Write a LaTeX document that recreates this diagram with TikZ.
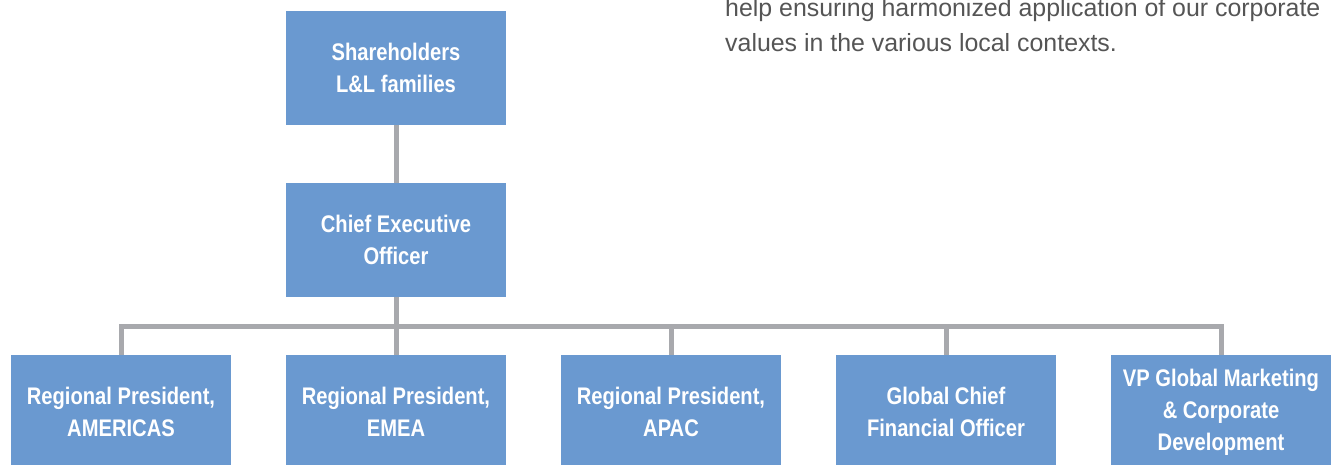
\documentclass[tikz,border=0pt]{standalone}
\usepackage{fontspec}
\setmainfont{Liberation Sans}
\newfontfamily\boxfont[FakeStretch=0.84]{Liberation Sans}
\definecolor{boxblue}{HTML}{6A99D0}
\definecolor{linegray}{HTML}{A8A9AD}
\definecolor{txtgray}{HTML}{555555}
\begin{document}
\begin{tikzpicture}[x=1pt,y=1pt,
  orgbox/.style={draw=none,fill=boxblue,minimum width=220pt,minimum height=114pt,inner sep=0pt,
    align=center,text=white,font=\boxfont\bfseries\fontsize{24}{32}\selectfont},
  conn/.style={draw=linegray,line width=5pt,line join=miter},
  prose/.style={anchor=base west,inner sep=0pt,text=txtgray,font=\fontsize{24.9}{35}\selectfont}]
\useasboundingbox (0,0) rectangle (1337,464);
\clip (0,0) rectangle (1337,464);
\node[orgbox] (sh) at (396,396) {Shareholders\\L\&L families};
\node[orgbox] (ceo) at (396,224) {Chief Executive\\Officer};
\node[orgbox] (b1) at (121,52) {Regional President,\\AMERICAS};
\node[orgbox] (b2) at (396,52) {Regional President,\\EMEA};
\node[orgbox] (b3) at (671,52) {Regional President,\\APAC};
\node[orgbox] (b4) at (946,52) {Global Chief\\Financial Officer};
\node[orgbox] (b5) at (1221,52) {VP Global Marketing\\\& Corporate\\Development};
\coordinate (bar) at (396,138);
\draw[conn] (sh.south) -- (ceo.north);
\draw[conn] (ceo.south) -- (bar);
\draw[conn] (b1.north) -- (b1.north |- bar) -- (b5.north |- bar) -- (b5.north);
\draw[conn] (b2.north) -- (b2.north |- bar);
\draw[conn] (b3.north) -- (b3.north |- bar);
\draw[conn] (b4.north) -- (b4.north |- bar);
\node[prose] (t1) at (725,447) {help ensuring harmonized application of our corporate};
\node[prose] (t2) at (725,412) {values in the various local contexts.};
\end{tikzpicture}
\end{document}
